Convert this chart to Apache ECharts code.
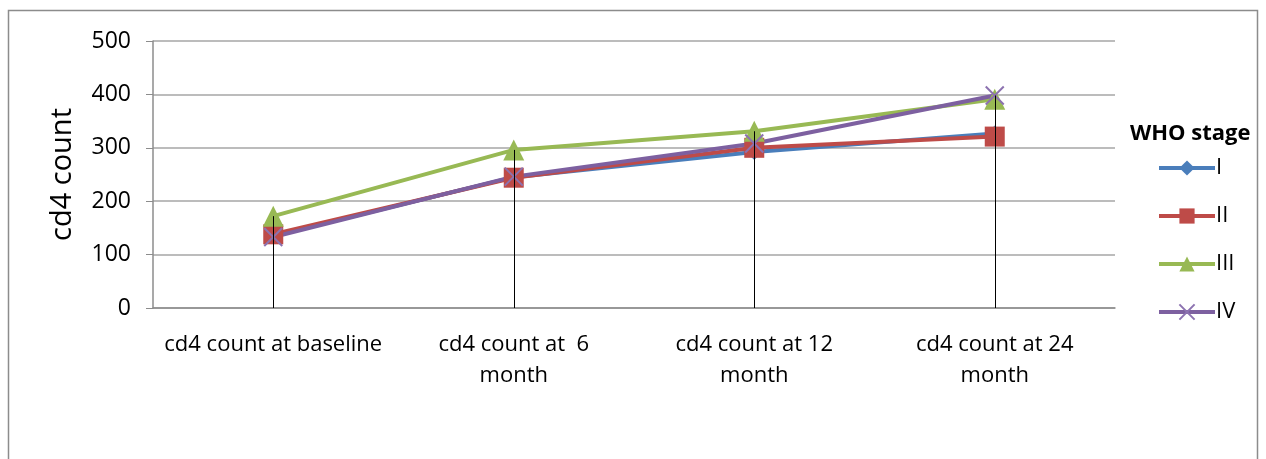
<!DOCTYPE html>
<html><head><meta charset="utf-8">
<script src="https://cdn.jsdelivr.net/npm/echarts@6/dist/echarts.min.js"></script>
<style>html,body{margin:0;padding:0;background:#fff;}#c{width:1266px;height:459px;}</style>
</head><body><div id="c"></div>
<script>
const categories = ['cd4 count at baseline', 'cd4 count at  6\nmonth', 'cd4 count at 12\nmonth', 'cd4 count at 24\nmonth'];
const stageI   = [135, 245, 292, 327];
const stageII  = [138, 244, 300, 321];
const stageIII = [172, 296, 331, 391];
const stageIV  = [133, 246, 308, 398];
const yTicks = [0, 100, 200, 300, 400, 500];

const FONT = '"Open Sans", "Noto Sans", sans-serif';
const chart = echarts.init(document.getElementById('c'));
const maxes = categories.map((c, i) => Math.max(stageI[i], stageII[i], stageIII[i], stageIV[i]));
const xPath = 'path://M0,0L10,10M10,0L0,10';

function mk(name, data, color, symbol, size, extra) {
  return Object.assign({
    name, type: 'line', data, symbol, symbolSize: size,
    lineStyle: { color, width: 4 },
    itemStyle: { color },
    z: 3
  }, extra || {});
}

chart.setOption({
  animation: false,
  textStyle: { fontFamily: FONT },
  graphic: [
    { type: 'rect', shape: { x: 8.5, y: 10.5, width: 1249, height: 460 }, style: { fill: 'none', stroke: '#8c8c8c', lineWidth: 1.5 }, silent: true },
    { type: 'text', left: 1130, top: 123, style: { text: 'WHO stage', font: 'bold 22px ' + FONT, fill: '#000' } }
  ],
  grid: { left: 153, right: 151, top: 41, bottom: 151 },
  legend: {
    orient: 'vertical', left: 1152, top: 152, itemWidth: 56, itemHeight: 19, itemGap: 26,
    lineStyle: { width: 4 },
    textStyle: { fontSize: 22, color: '#000', fontFamily: FONT, padding: [0, 0, 0, -4] },
    data: ['I', 'II', 'III', 'IV']
  },
  xAxis: {
    type: 'category', data: categories, boundaryGap: true,
    axisLine: { lineStyle: { color: '#8c8c8c', width: 1.5 } },
    axisTick: { show: false },
    axisLabel: { fontSize: 22, color: '#000', lineHeight: 31, margin: 21, interval: 0 }
  },
  yAxis: {
    type: 'value', min: 0, max: 500, interval: 100,
    name: 'cd4 count', nameLocation: 'middle', nameGap: 76, nameRotate: 90,
    nameTextStyle: { fontSize: 29, color: '#000', fontFamily: FONT },
    axisLine: { show: true, lineStyle: { color: '#8c8c8c', width: 1.5 } },
    axisTick: { show: true, length: 7, lineStyle: { color: '#8c8c8c' } },
    axisLabel: { fontSize: 23, color: '#000', margin: 22, formatter: v => yTicks.includes(v) ? String(v) : '' },
    splitLine: { lineStyle: { color: '#a6a6a6', width: 1.5 } }
  },
  series: [
    mk('I', stageI, '#4a7ebb', 'diamond', 16, {
      markLine: {
        silent: true, symbol: 'none', label: { show: false },
        lineStyle: { color: '#000', width: 1, type: 'solid' },
        data: categories.map((c, i) => [{ coord: [i, 0] }, { coord: [i, maxes[i]] }])
      }
    }),
    mk('II', stageII, '#be4b48', 'rect', 20),
    mk('III', stageIII, '#98b954', 'triangle', 21),
    mk('IV', stageIV, '#7d60a0', xPath, 18, { itemStyle: { color: '#7d60a0', borderColor: '#8c72b0', borderWidth: 2 } })
  ]
});
</script></body></html>
